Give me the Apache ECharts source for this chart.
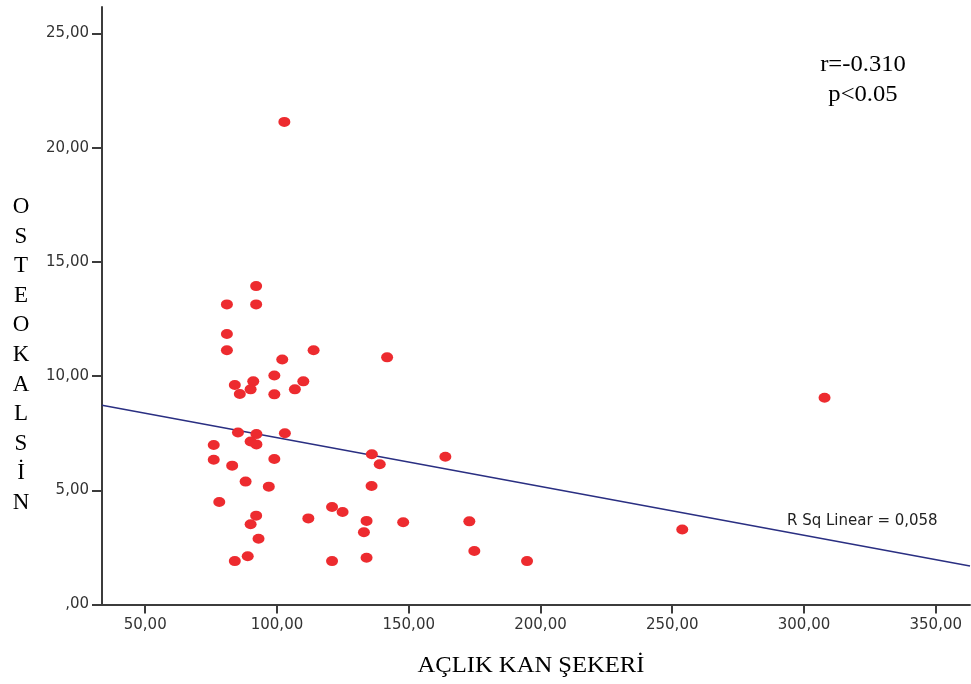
<!DOCTYPE html>
<html>
<head>
<meta charset="utf-8">
<script src="https://cdn.jsdelivr.net/npm/echarts@6/dist/echarts.min.js"></script>
<style>
  html, body { margin: 0; padding: 0; background: #fff; }
  #main { width: 971px; height: 684px; }
</style>
</head>
<body>
<div id="main"></div>
<script>
// fasting blood sugar (x) vs osteocalcin (y)
var aclikKanSekeri = [92.1, 81, 92.1, 81, 81, 113.9, 102, 99, 110, 91, 84, 90, 106.8, 85.9, 99,
  85.2, 92.2, 103, 90, 92.2, 76, 76, 99, 83, 88.1, 96.9, 78.1, 120.9, 124.9, 92.1, 111.9, 90,
  93, 88.9, 84, 120.9, 141.8, 136, 163.9, 139, 135.9, 134, 147.9, 173, 133, 174.9, 134, 194.9,
  307.8, 253.8, 102.8];
var osteokalsin = [13.94, 13.14, 13.14, 11.84, 11.13, 11.13, 10.73, 10.03, 9.77, 9.77, 9.61, 9.42, 9.42, 9.22, 9.2,
  7.53, 7.46, 7.5, 7.14, 7.01, 6.98, 6.34, 6.37, 6.08, 5.38, 5.16, 4.49, 4.27, 4.05, 3.89, 3.77, 3.51,
  2.88, 2.11, 1.9, 1.9, 10.82, 6.58, 6.47, 6.14, 5.19, 3.66, 3.6, 3.64, 3.16, 2.34, 2.05, 1.9,
  9.05, 3.28, 21.13];

var xTicks = [50, 100, 150, 200, 250, 300, 350];
var xTickLabels = ['50,00', '100,00', '150,00', '200,00', '250,00', '300,00', '350,00'];
var yTicks = [0, 5, 10, 15, 20, 25];
var yTickLabels = [',00', '5,00', '10,00', '15,00', '20,00', '25,00'];

var xMin = 33.6, xMax = 363;
var yMin = 0, yMax = 26.16;

var xTitle = 'AÇLIK KAN ŞEKERİ';
var yTitle = 'OSTEOKALSİN';
var statsText = 'r=-0.310\np<0.05';
var fitText = 'R Sq Linear = 0,058';

// least squares fit line
function fit(xs, ys) {
  var n = xs.length, sx = 0, sy = 0, sxx = 0, sxy = 0;
  for (var i = 0; i < n; i++) {
    sx += xs[i]; sy += ys[i]; sxx += xs[i] * xs[i]; sxy += xs[i] * ys[i];
  }
  var b = (n * sxy - sx * sy) / (n * sxx - sx * sx);
  return { a: (sy - b * sx) / n, b: b };
}
var lf = fit(aclikKanSekeri, osteokalsin);

var points = aclikKanSekeri.map(function (x, i) { return [x, osteokalsin[i]]; });
var fitLine = [[xMin, lf.a + lf.b * xMin], [xMax, lf.a + lf.b * xMax]];

var axisColor = '#3c3c3c';
var labelFont = { fontFamily: 'DejaVu Sans', fontSize: 15, color: '#333' };

var myChart = echarts.init(document.getElementById('main'));
myChart.setOption({
  animation: false,
  backgroundColor: '#fff',
  grid: { left: 102, top: 7, right: 1, bottom: 79.5 },
  xAxis: {
    type: 'value',
    min: xMin,
    max: xMax,
    splitLine: { show: false },
    axisLine: { lineStyle: { color: axisColor, width: 2 } },
    axisTick: { show: true, length: 9, lineStyle: { color: axisColor, width: 2 }, customValues: xTicks },
    axisLabel: Object.assign({
      margin: 13,
      customValues: xTicks,
      formatter: function (v) { return xTickLabels[xTicks.indexOf(v)]; }
    }, labelFont)
  },
  yAxis: {
    type: 'value',
    min: yMin,
    max: yMax,
    splitLine: { show: false },
    axisLine: { show: true, lineStyle: { color: axisColor, width: 2 } },
    axisTick: { show: true, length: 10, lineStyle: { color: axisColor, width: 2 }, customValues: yTicks },
    axisLabel: Object.assign({
      margin: 13,
      customValues: yTicks,
      formatter: function (v) { return yTickLabels[yTicks.indexOf(v)]; }
    }, labelFont)
  },
  series: [
    {
      type: 'line',
      data: fitLine,
      showSymbol: false,
      symbol: 'none',
      lineStyle: { color: '#2a2f82', width: 1.5 },
      z: 1
    },
    {
      type: 'scatter',
      data: points,
      symbol: 'circle',
      symbolSize: [12, 10],
      itemStyle: { color: '#ed2b2f', opacity: 1 },
      z: 2
    }
  ],
  graphic: [
    {
      type: 'text', x: 531, y: 666, scaleX: 1.07,
      style: {
        text: xTitle, align: 'center', verticalAlign: 'middle',
        font: '23px "Liberation Serif"', fill: '#000'
      }
    },
    {
      type: 'text', x: 21, y: 355,
      style: {
        text: yTitle.split('').join('\n'), align: 'center', verticalAlign: 'middle',
        font: '23px "Liberation Serif"', lineHeight: 29.6, fill: '#000'
      }
    },
    {
      type: 'text', x: 863, y: 80, scaleX: 1.07,
      style: {
        text: statsText, align: 'center', verticalAlign: 'middle',
        font: '23px "Liberation Serif"', lineHeight: 30.3, fill: '#000'
      }
    },
    {
      type: 'text', x: 787, y: 521,
      style: {
        text: fitText, align: 'left', verticalAlign: 'middle',
        font: '15px "DejaVu Sans"', fill: '#222'
      }
    }
  ]
});
</script>
</body>
</html>
